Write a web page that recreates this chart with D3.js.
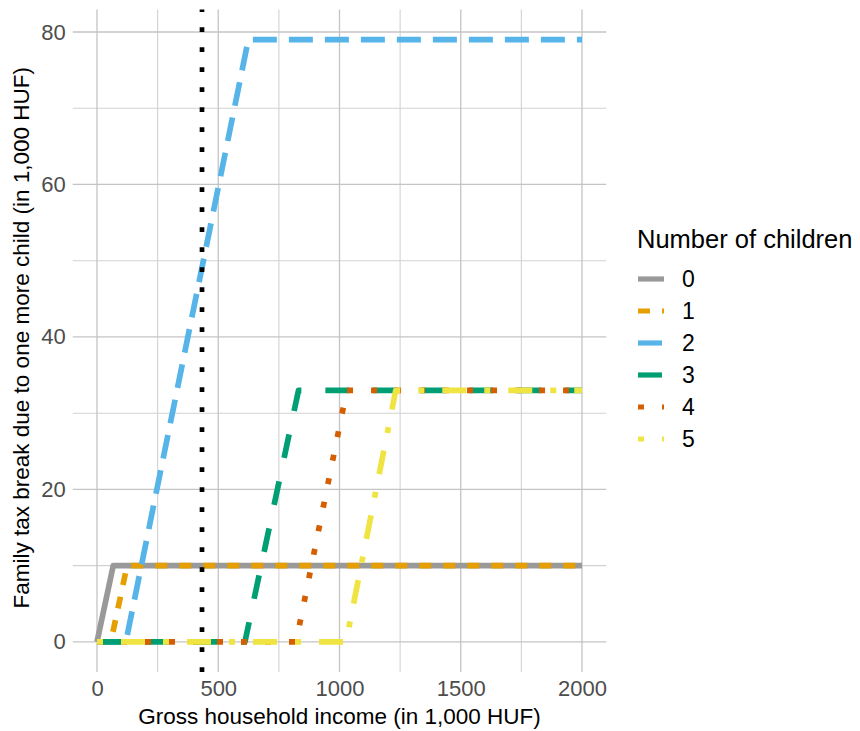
<!DOCTYPE html>
<html>
<head>
<meta charset="utf-8">
<script src="https://cdn.jsdelivr.net/npm/d3@7"></script>
<style>
  body { margin: 0; background: #fff; }
  svg { display: block; font-family: "Liberation Sans", Arial, sans-serif; }
</style>
</head>
<body>
<svg id="chart" width="860" height="731"></svg>
<script>
// data (income in 1,000 HUF, tax break in 1,000 HUF)
const childCounts = ['0', '1', '2', '3', '4', '5'];
const income0 = [0, 67, 2000];
const break0 = [0, 10, 10];
const income1 = [0, 57, 124, 2000];
const break1 = [0, 0, 10, 10];
const income2 = [0, 119, 624, 2000];
const break2 = [0, 0, 79, 79];
const income3 = [0, 610, 831, 2000];
const break3 = [0, 0, 33, 33];
const income4 = [0, 821, 1030, 2000];
const break4 = [0, 0, 33, 33];
const income5 = [0, 1027, 1232, 2000];
const break5 = [0, 0, 33, 33];
const thresholdIncome = 433;

const xTicks = [0, 500, 1000, 1500, 2000];
const xMinor = [250, 750, 1250, 1750];
const yTicks = [0, 20, 40, 60, 80];
const yMinor = [10, 30, 50, 70];

const colours = ['#999999', '#E69F00', '#56B4E9', '#009E73', '#D55E00', '#F0E442'];
const dashes = [null, '12,12', '24,12', '24,24', '6,18', '6,18,24,18'];

const incomes = [income0, income1, income2, income3, income4, income5];
const breaks = [break0, break1, break2, break3, break4, break5];
const series = childCounts.map((c, i) => ({
  key: c,
  values: incomes[i].map((inc, j) => ({ income: inc, value: breaks[i][j] }))
}));

const svg = d3.select('#chart');
const panel = { left: 72.75, right: 606.25, top: 9.5, bottom: 672 };

// ggplot-style 5% expansion
const x = d3.scaleLinear().domain([-100, 2100]).range([panel.left, panel.right]);
const y = d3.scaleLinear().domain([-3.95, 82.95]).range([panel.bottom, panel.top]);

const grid = svg.append('g').attr('class', 'grid');
grid.selectAll('.vminor')
  .data(xMinor)
  .enter()
  .append('line')
    .attr('x1', d => x(d)).attr('x2', d => x(d))
    .attr('y1', panel.top).attr('y2', panel.bottom)
    .attr('stroke', '#d2d2d2').attr('stroke-width', 1.1);
grid.selectAll('.hminor')
  .data(yMinor)
  .enter()
  .append('line')
    .attr('y1', d => y(d)).attr('y2', d => y(d))
    .attr('x1', panel.left).attr('x2', panel.right)
    .attr('stroke', '#d2d2d2').attr('stroke-width', 1.1);
grid.selectAll('.vmajor')
  .data(xTicks)
  .enter()
  .append('line')
    .attr('x1', d => x(d)).attr('x2', d => x(d))
    .attr('y1', panel.top).attr('y2', panel.bottom)
    .attr('stroke', '#c4c4c4').attr('stroke-width', 1.3);
grid.selectAll('.hmajor')
  .data(yTicks)
  .enter()
  .append('line')
    .attr('y1', d => y(d)).attr('y2', d => y(d))
    .attr('x1', panel.left).attr('x2', panel.right)
    .attr('stroke', '#c4c4c4').attr('stroke-width', 1.3);

// axes (ticks hidden, only labels)
const xAxis = svg.append('g')
  .attr('transform', `translate(0,${panel.bottom})`)
  .call(d3.axisBottom(x).tickValues(xTicks).tickFormat(d3.format('d')).tickSize(0).tickPadding(8));
const yAxis = svg.append('g')
  .attr('transform', `translate(${panel.left},0)`)
  .call(d3.axisLeft(y).tickValues(yTicks).tickFormat(d3.format('d')).tickSize(0).tickPadding(7));
[xAxis, yAxis].forEach(a => {
  a.select('.domain').remove();
  a.selectAll('text')
    .attr('fill', '#4d4d4d')
    .style('font-size', '22px')
    .style('font-family', '"Liberation Sans", Arial, sans-serif');
});

// lines
const line = d3.line()
  .x(d => x(d.income))
  .y(d => y(d.value));

svg.append('g')
  .selectAll('path')
  .data(series)
  .enter()
  .append('path')
    .attr('d', d => line(d.values))
    .attr('fill', 'none')
    .attr('stroke', (d, i) => colours[i])
    .attr('stroke-width', 5.7)
    .attr('stroke-linejoin', 'round')
    .attr('stroke-linecap', 'butt')
    .attr('stroke-dasharray', (d, i) => dashes[i]);

// threshold line, drawn bottom to top like ggplot does
svg.append('line')
  .attr('x1', x(thresholdIncome)).attr('x2', x(thresholdIncome))
  .attr('y1', panel.bottom).attr('y2', panel.top)
  .attr('stroke', '#000')
  .attr('stroke-width', 4.7)
  .attr('stroke-dasharray', '4.7,15.3');

// axis titles
svg.append('text')
  .attr('x', (panel.left + panel.right) / 2)
  .attr('y', 724)
  .attr('text-anchor', 'middle')
  .style('font-size', '22.5px')
  .text('Gross household income (in 1,000 HUF)');

svg.append('text')
  .attr('transform', `translate(29,${(panel.top + panel.bottom) / 2 - 3})rotate(-90)`)
  .attr('text-anchor', 'middle')
  .style('font-size', '22.5px')
  .text('Family tax break due to one more child (in 1,000 HUF)');

// legend
const legend = svg.append('g').attr('transform', 'translate(637,0)');
legend.append('text')
  .attr('x', 0)
  .attr('y', 248)
  .style('font-size', '25.5px')
  .text('Number of children');

const rows = legend.selectAll('.row')
  .data(series)
  .enter()
  .append('g')
    .attr('class', 'row')
    .attr('transform', (d, i) => `translate(0,${279 + i * 32})`);

rows.append('line')
  .attr('x1', 1).attr('x2', 27)
  .attr('y1', 0).attr('y2', 0)
  .attr('stroke', (d, i) => colours[i])
  .attr('stroke-width', 5.2)
  .attr('stroke-dasharray', (d, i) => dashes[i]);

rows.append('text')
  .attr('x', 45)
  .attr('y', 0)
  .attr('dy', '0.36em')
  .style('font-size', '23px')
  .text(d => d.key);
</script>
</body>
</html>
